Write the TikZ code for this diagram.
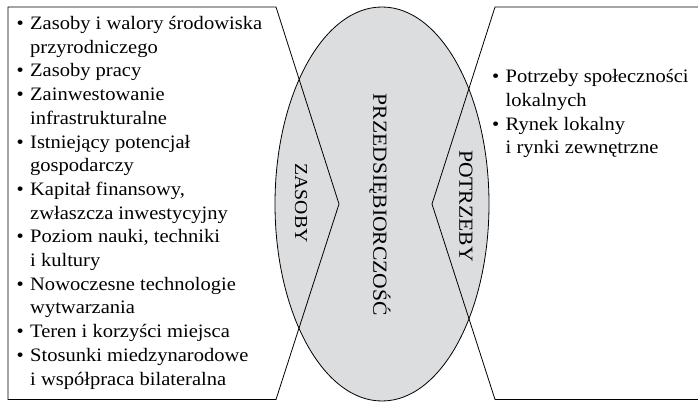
\documentclass[tikz,border=0pt]{standalone}
\usepackage{fontspec}
\usetikzlibrary{shapes.geometric}
\setmainfont{Liberation Serif}[FakeStretch=1.08]
\definecolor{ovalfill}{RGB}{220,221,223}
\newcommand{\itm}{\makebox[13.5pt][l]{\textbullet}}
\newcommand{\cnt}{\hspace*{13.5pt}}
\begin{document}
\begin{tikzpicture}[x=1pt,y=1pt,
  outline/.style={draw=black, line width=0.8pt, line join=miter},
  listtext/.style={anchor=base west, align=left, inner sep=0pt,
    font=\fontsize{19}{23.7}\selectfont},
  sidelabel/.style={rotate=-90, inner sep=0pt, font=\fontsize{20}{24}\selectfont}]
  \useasboundingbox (0,0) rectangle (698,402);
  % central oval
  \node[ellipse, minimum width=214pt, minimum height=394pt, inner sep=0pt,
    fill=ovalfill, draw=black, line width=0.8pt] (oval) at (382,198) {};
  % resource and needs panels
  \draw[outline] (8,2.5) -- (8,395) -- (276,395) -- (339,198) -- (276,2.5) -- cycle;
  \draw[outline] (698,395) -- (495,395) -- (432,198) -- (495,2.5) -- (698,2.5);
  % labels
  \node[sidelabel, font=\fontsize{18.3}{22}\selectfont] (zas) at (301,199) {ZASOBY};
  \node[sidelabel] (prz) at (380,197) {PRZEDSIĘBIORCZOŚĆ};
  \node[sidelabel] (pot) at (466,196) {POTRZEBY};
  % lists (anchored at the baseline of the last line)
  \node[listtext] (left) at (16.5,17) {%
    \itm Zasoby i walory środowiska\\
    \cnt przyrodniczego\\
    \itm Zasoby pracy\\
    \itm Zainwestowanie\\
    \cnt infrastrukturalne\\
    \itm Istniejący potencjał\\
    \cnt gospodarczy\\
    \itm Kapitał finansowy,\\
    \cnt zwłaszcza inwestycyjny\\
    \itm Poziom nauki, techniki\\
    \cnt i kultury\\
    \itm Nowoczesne technologie\\
    \cnt wytwarzania\\
    \itm Teren i korzyści miejsca\\
    \itm Stosunki miedzynarodowe\\
    \cnt i współpraca bilateralna};
  \node[listtext] (right) at (492,248) {%
    \itm Potrzeby społeczności\\
    \cnt lokalnych\\
    \itm Rynek lokalny\\
    \cnt i rynki zewnętrzne};
\end{tikzpicture}
\end{document}
